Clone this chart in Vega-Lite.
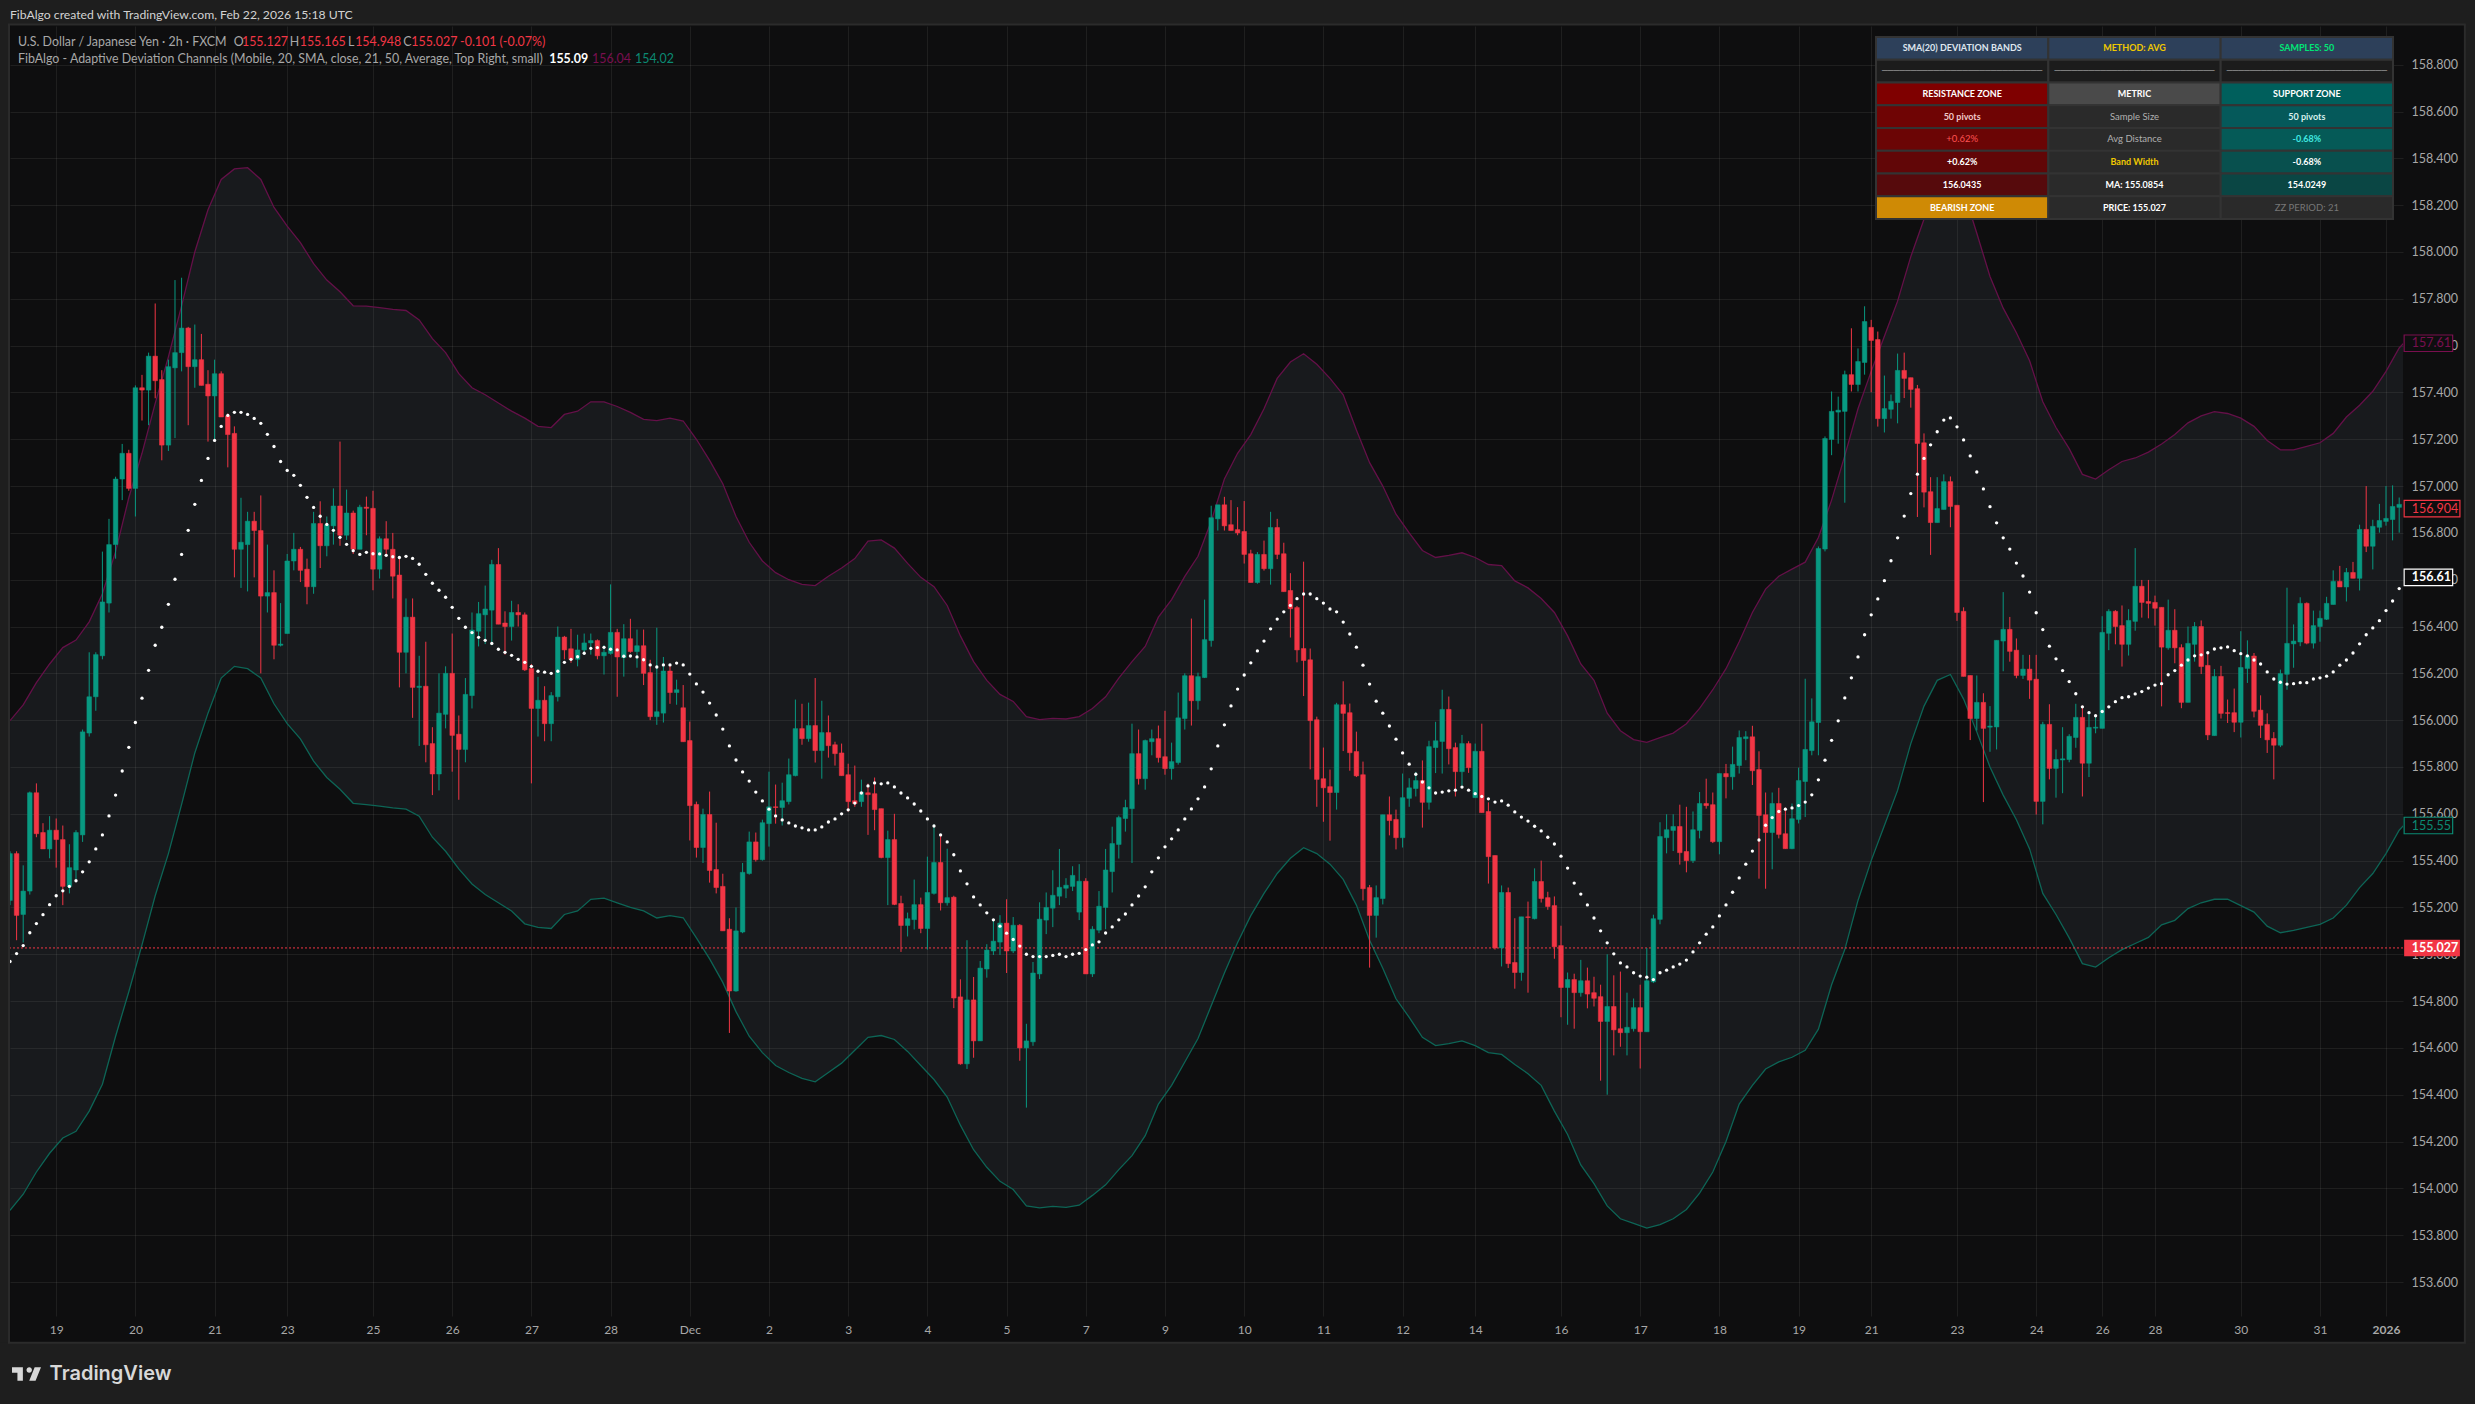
{
"$schema":"https://vega.github.io/schema/vega-lite/v6.json",
"width":2393,"height":1290,
"autosize":{"type":"none"},
"padding":{"left":10,"top":26,"right":72,"bottom":88},
"background":"#0e0e0f",
"view":{"fill":"#0e0e0f","stroke":null},
"config":{"font":"Lato","text":{"font":"Lato"}},
"data":{"values":[{}]},
"datasets":{
"bars":[
{"i":0,"o":155.23,"h":155.44,"l":155.21,"c":155.43,"m":154.969},
{"i":1,"o":155.43,"h":155.44,"l":155.06,"c":155.166,"m":155.003},
{"i":2,"o":155.17,"h":155.38,"l":155.05,"c":155.27,"m":155.037},
{"i":3,"o":155.27,"h":155.695,"l":155.255,"c":155.69,"m":155.092},
{"i":4,"o":155.69,"h":155.73,"l":155.5,"c":155.515,"m":155.131},
{"i":5,"o":155.52,"h":155.56,"l":155.45,"c":155.45,"m":155.169},
{"i":6,"o":155.45,"h":155.59,"l":155.41,"c":155.53,"m":155.212},
{"i":7,"o":155.53,"h":155.58,"l":155.37,"c":155.49,"m":155.25},
{"i":8,"o":155.49,"h":155.55,"l":155.21,"c":155.29,"m":155.271},
{"i":9,"o":155.29,"h":155.47,"l":155.26,"c":155.37,"m":155.29},
{"i":10,"o":155.36,"h":155.53,"l":155.32,"c":155.52,"m":155.314},
{"i":11,"o":155.51,"h":155.96,"l":155.48,"c":155.95,"m":155.352},
{"i":12,"o":155.945,"h":156.29,"l":155.93,"c":156.1,"m":155.395},
{"i":13,"o":156.1,"h":156.29,"l":156.04,"c":156.28,"m":155.45},
{"i":14,"o":156.275,"h":156.72,"l":156.26,"c":156.505,"m":155.51},
{"i":15,"o":156.5,"h":156.86,"l":156.46,"c":156.75,"m":155.591},
{"i":16,"o":156.75,"h":157.04,"l":156.69,"c":157.03,"m":155.68},
{"i":17,"o":157.03,"h":157.18,"l":156.94,"c":157.14,"m":155.783},
{"i":18,"o":157.14,"h":157.155,"l":156.98,"c":156.99,"m":155.884},
{"i":19,"o":156.99,"h":157.43,"l":156.87,"c":157.42,"m":155.99},
{"i":20,"o":157.42,"h":157.475,"l":157.28,"c":157.41,"m":156.094},
{"i":21,"o":157.41,"h":157.57,"l":157.26,"c":157.555,"m":156.213},
{"i":22,"o":157.555,"h":157.78,"l":157.375,"c":157.45,"m":156.32},
{"i":23,"o":157.455,"h":157.495,"l":157.11,"c":157.175,"m":156.397},
{"i":24,"o":157.175,"h":157.54,"l":157.15,"c":157.51,"m":156.495},
{"i":25,"o":157.505,"h":157.88,"l":157.205,"c":157.57,"m":156.602},
{"i":26,"o":157.57,"h":157.89,"l":157.49,"c":157.675,"m":156.708},
{"i":27,"o":157.675,"h":157.68,"l":157.26,"c":157.51,"m":156.811},
{"i":28,"o":157.51,"h":157.69,"l":157.42,"c":157.54,"m":156.922},
{"i":29,"o":157.54,"h":157.65,"l":157.43,"c":157.43,"m":157.024},
{"i":30,"o":157.435,"h":157.495,"l":157.19,"c":157.385,"m":157.118},
{"i":31,"o":157.385,"h":157.54,"l":157.195,"c":157.48,"m":157.195},
{"i":32,"o":157.48,"h":157.49,"l":157.295,"c":157.295,"m":157.255},
{"i":33,"o":157.3,"h":157.31,"l":157.08,"c":157.22,"m":157.302},
{"i":34,"o":157.225,"h":157.255,"l":156.61,"c":156.73,"m":157.315},
{"i":35,"o":156.73,"h":156.95,"l":156.565,"c":156.76,"m":157.315},
{"i":36,"o":156.75,"h":156.89,"l":156.55,"c":156.85,"m":157.306},
{"i":37,"o":156.85,"h":156.89,"l":156.61,"c":156.81,"m":157.289},
{"i":38,"o":156.81,"h":156.96,"l":156.2,"c":156.53,"m":157.268},
{"i":39,"o":156.53,"h":156.75,"l":156.46,"c":156.545,"m":157.221},
{"i":40,"o":156.545,"h":156.64,"l":156.26,"c":156.32,"m":157.169},
{"i":41,"o":156.32,"h":156.5,"l":156.315,"c":156.325,"m":157.105},
{"i":42,"o":156.37,"h":156.71,"l":156.37,"c":156.68,"m":157.067},
{"i":43,"o":156.68,"h":156.8,"l":156.64,"c":156.73,"m":157.046},
{"i":44,"o":156.73,"h":156.74,"l":156.59,"c":156.64,"m":157.003},
{"i":45,"o":156.645,"h":156.69,"l":156.495,"c":156.57,"m":156.952},
{"i":46,"o":156.57,"h":156.89,"l":156.54,"c":156.84,"m":156.909},
{"i":47,"o":156.84,"h":156.935,"l":156.65,"c":156.745,"m":156.871},
{"i":48,"o":156.745,"h":156.87,"l":156.7,"c":156.835,"m":156.836},
{"i":49,"o":156.83,"h":156.99,"l":156.75,"c":156.915,"m":156.811},
{"i":50,"o":156.915,"h":157.19,"l":156.745,"c":156.79,"m":156.781},
{"i":51,"o":156.79,"h":156.985,"l":156.77,"c":156.885,"m":156.751},
{"i":52,"o":156.885,"h":156.895,"l":156.71,"c":156.73,"m":156.724},
{"i":53,"o":156.73,"h":156.92,"l":156.73,"c":156.91,"m":156.708},
{"i":54,"o":156.91,"h":156.955,"l":156.79,"c":156.905,"m":156.717},
{"i":55,"o":156.905,"h":156.98,"l":156.555,"c":156.645,"m":156.711},
{"i":56,"o":156.645,"h":156.785,"l":156.605,"c":156.775,"m":156.71},
{"i":57,"o":156.775,"h":156.85,"l":156.7,"c":156.73,"m":156.704},
{"i":58,"o":156.73,"h":156.8,"l":156.52,"c":156.615,"m":156.698},
{"i":59,"o":156.62,"h":156.7,"l":156.14,"c":156.29,"m":156.695},
{"i":60,"o":156.29,"h":156.52,"l":156.2,"c":156.44,"m":156.7},
{"i":61,"o":156.44,"h":156.52,"l":156.01,"c":156.14,"m":156.691},
{"i":62,"o":156.14,"h":156.275,"l":155.89,"c":156.145,"m":156.666},
{"i":63,"o":156.145,"h":156.335,"l":155.82,"c":155.895,"m":156.623},
{"i":64,"o":155.9,"h":155.97,"l":155.68,"c":155.77,"m":156.585},
{"i":65,"o":155.77,"h":156.2,"l":155.7,"c":156.03,"m":156.555},
{"i":66,"o":156.025,"h":156.23,"l":155.965,"c":156.2,"m":156.525},
{"i":67,"o":156.2,"h":156.37,"l":155.78,"c":155.935,"m":156.482},
{"i":68,"o":155.94,"h":156.02,"l":155.66,"c":155.875,"m":156.435},
{"i":69,"o":155.875,"h":156.18,"l":155.82,"c":156.11,"m":156.397},
{"i":70,"o":156.105,"h":156.46,"l":156.05,"c":156.385,"m":156.374},
{"i":71,"o":156.38,"h":156.505,"l":156.315,"c":156.455,"m":156.354},
{"i":72,"o":156.45,"h":156.575,"l":156.325,"c":156.475,"m":156.341},
{"i":73,"o":156.47,"h":156.685,"l":156.32,"c":156.665,"m":156.328},
{"i":74,"o":156.665,"h":156.735,"l":156.41,"c":156.41,"m":156.303},
{"i":75,"o":156.415,"h":156.465,"l":156.28,"c":156.4,"m":156.29},
{"i":76,"o":156.4,"h":156.51,"l":156.34,"c":156.46,"m":156.277},
{"i":77,"o":156.46,"h":156.495,"l":156.4,"c":156.45,"m":156.26},
{"i":78,"o":156.45,"h":156.46,"l":156.21,"c":156.215,"m":156.247},
{"i":79,"o":156.22,"h":156.24,"l":155.73,"c":156.05,"m":156.23},
{"i":80,"o":156.05,"h":156.185,"l":155.93,"c":156.085,"m":156.209},
{"i":81,"o":156.085,"h":156.145,"l":155.91,"c":155.985,"m":156.205},
{"i":82,"o":155.985,"h":156.12,"l":155.91,"c":156.105,"m":156.2},
{"i":83,"o":156.1,"h":156.4,"l":156.08,"c":156.355,"m":156.209},
{"i":84,"o":156.355,"h":156.36,"l":156.26,"c":156.3,"m":156.247},
{"i":85,"o":156.305,"h":156.39,"l":156.245,"c":156.26,"m":156.26},
{"i":86,"o":156.26,"h":156.365,"l":156.23,"c":156.3,"m":156.271},
{"i":87,"o":156.3,"h":156.37,"l":156.28,"c":156.33,"m":156.286},
{"i":88,"o":156.33,"h":156.37,"l":156.28,"c":156.34,"m":156.307},
{"i":89,"o":156.34,"h":156.345,"l":156.26,"c":156.275,"m":156.31},
{"i":90,"o":156.275,"h":156.32,"l":156.195,"c":156.29,"m":156.311},
{"i":91,"o":156.285,"h":156.58,"l":156.28,"c":156.375,"m":156.303},
{"i":92,"o":156.375,"h":156.39,"l":156.1,"c":156.27,"m":156.3},
{"i":93,"o":156.267,"h":156.41,"l":156.186,"c":156.348,"m":156.273},
{"i":94,"o":156.348,"h":156.433,"l":156.288,"c":156.293,"m":156.274},
{"i":95,"o":156.293,"h":156.387,"l":156.224,"c":156.318,"m":156.27},
{"i":96,"o":156.318,"h":156.387,"l":156.15,"c":156.2,"m":156.258},
{"i":97,"o":156.203,"h":156.258,"l":156.0,"c":156.015,"m":156.236},
{"i":98,"o":156.015,"h":156.395,"l":155.98,"c":156.036,"m":156.227},
{"i":99,"o":156.03,"h":156.27,"l":155.99,"c":156.21,"m":156.236},
{"i":100,"o":156.21,"h":156.24,"l":156.07,"c":156.118,"m":156.236},
{"i":101,"o":156.118,"h":156.173,"l":156.066,"c":156.13,"m":156.244},
{"i":102,"o":156.053,"h":156.15,"l":155.908,"c":155.908,"m":156.236},
{"i":103,"o":155.913,"h":155.994,"l":155.486,"c":155.635,"m":156.197},
{"i":104,"o":155.64,"h":155.652,"l":155.413,"c":155.456,"m":156.155},
{"i":105,"o":155.456,"h":155.622,"l":155.39,"c":155.597,"m":156.12},
{"i":106,"o":155.597,"h":155.695,"l":155.306,"c":155.358,"m":156.073},
{"i":107,"o":155.362,"h":155.562,"l":155.26,"c":155.285,"m":156.022},
{"i":108,"o":155.29,"h":155.344,"l":155.1,"c":155.1,"m":155.962},
{"i":109,"o":155.107,"h":155.154,"l":154.664,"c":154.843,"m":155.89},
{"i":110,"o":154.843,"h":155.2,"l":154.84,"c":155.1,"m":155.83},
{"i":111,"o":155.095,"h":155.39,"l":155.09,"c":155.35,"m":155.779},
{"i":112,"o":155.345,"h":155.524,"l":155.34,"c":155.48,"m":155.74},
{"i":113,"o":155.48,"h":155.52,"l":155.396,"c":155.404,"m":155.693},
{"i":114,"o":155.404,"h":155.575,"l":155.4,"c":155.562,"m":155.655},
{"i":115,"o":155.558,"h":155.78,"l":155.46,"c":155.63,"m":155.62},
{"i":116,"o":155.63,"h":155.725,"l":155.558,"c":155.627,"m":155.591},
{"i":117,"o":155.627,"h":155.733,"l":155.55,"c":155.656,"m":155.574},
{"i":118,"o":155.652,"h":155.836,"l":155.64,"c":155.767,"m":155.561},
{"i":119,"o":155.763,"h":156.088,"l":155.76,"c":155.964,"m":155.548},
{"i":120,"o":155.964,"h":156.07,"l":155.895,"c":155.921,"m":155.54},
{"i":121,"o":155.921,"h":156.075,"l":155.908,"c":155.977,"m":155.531},
{"i":122,"o":155.977,"h":156.18,"l":155.819,"c":155.87,"m":155.531},
{"i":123,"o":155.87,"h":156.083,"l":155.75,"c":155.947,"m":155.544},
{"i":124,"o":155.947,"h":156.02,"l":155.84,"c":155.891,"m":155.565},
{"i":125,"o":155.895,"h":155.908,"l":155.806,"c":155.857,"m":155.578},
{"i":126,"o":155.86,"h":155.9,"l":155.763,"c":155.763,"m":155.6},
{"i":127,"o":155.767,"h":155.814,"l":155.61,"c":155.652,"m":155.617},
{"i":128,"o":155.656,"h":155.806,"l":155.63,"c":155.644,"m":155.646},
{"i":129,"o":155.652,"h":155.746,"l":155.63,"c":155.692,"m":155.689},
{"i":130,"o":155.69,"h":155.729,"l":155.51,"c":155.682,"m":155.719},
{"i":131,"o":155.686,"h":155.755,"l":155.53,"c":155.618,"m":155.732},
{"i":132,"o":155.622,"h":155.622,"l":155.41,"c":155.413,"m":155.728},
{"i":133,"o":155.413,"h":155.528,"l":155.21,"c":155.49,"m":155.732},
{"i":134,"o":155.49,"h":155.6,"l":155.21,"c":155.213,"m":155.715},
{"i":135,"o":155.217,"h":155.25,"l":155.01,"c":155.123,"m":155.689},
{"i":136,"o":155.123,"h":155.178,"l":155.076,"c":155.152,"m":155.668},
{"i":137,"o":155.148,"h":155.319,"l":155.106,"c":155.212,"m":155.642},
{"i":138,"o":155.212,"h":155.242,"l":155.09,"c":155.11,"m":155.612},
{"i":139,"o":155.11,"h":155.417,"l":155.02,"c":155.264,"m":155.578},
{"i":140,"o":155.26,"h":155.554,"l":155.255,"c":155.392,"m":155.548},
{"i":141,"o":155.392,"h":155.51,"l":155.187,"c":155.22,"m":155.51},
{"i":142,"o":155.22,"h":155.451,"l":155.208,"c":155.242,"m":155.48},
{"i":143,"o":155.244,"h":155.25,"l":154.77,"c":154.813,"m":155.425},
{"i":144,"o":154.818,"h":154.893,"l":154.528,"c":154.532,"m":155.356},
{"i":145,"o":154.532,"h":155.06,"l":154.51,"c":154.805,"m":155.301},
{"i":146,"o":154.805,"h":154.903,"l":154.558,"c":154.63,"m":155.245},
{"i":147,"o":154.63,"h":154.971,"l":154.63,"c":154.941,"m":155.211},
{"i":148,"o":154.937,"h":155.043,"l":154.9,"c":155.018,"m":155.177},
{"i":149,"o":155.014,"h":155.15,"l":154.997,"c":155.056,"m":155.147},
{"i":150,"o":155.052,"h":155.167,"l":154.997,"c":155.133,"m":155.12},
{"i":151,"o":155.133,"h":155.235,"l":154.92,"c":155.014,"m":155.09},
{"i":152,"o":155.014,"h":155.159,"l":155.005,"c":155.124,"m":155.063},
{"i":153,"o":155.124,"h":155.129,"l":154.545,"c":154.6,"m":155.035},
{"i":154,"o":154.6,"h":154.703,"l":154.345,"c":154.63,"m":155.0},
{"i":155,"o":154.626,"h":154.967,"l":154.609,"c":154.92,"m":154.99},
{"i":156,"o":154.916,"h":155.222,"l":154.894,"c":155.15,"m":154.99},
{"i":157,"o":155.146,"h":155.264,"l":155.086,"c":155.2,"m":154.99},
{"i":158,"o":155.197,"h":155.359,"l":155.116,"c":155.252,"m":154.995},
{"i":159,"o":155.248,"h":155.45,"l":155.21,"c":155.286,"m":155.0},
{"i":160,"o":155.282,"h":155.325,"l":155.24,"c":155.295,"m":154.99},
{"i":161,"o":155.29,"h":155.376,"l":155.27,"c":155.337,"m":155.0},
{"i":162,"o":155.18,"h":155.385,"l":155.146,"c":155.312,"m":155.004},
{"i":163,"o":155.312,"h":155.325,"l":154.916,"c":154.916,"m":155.02},
{"i":164,"o":154.916,"h":155.12,"l":154.903,"c":155.107,"m":155.04},
{"i":165,"o":155.103,"h":155.27,"l":155.09,"c":155.205,"m":155.053},
{"i":166,"o":155.2,"h":155.45,"l":155.107,"c":155.36,"m":155.091},
{"i":167,"o":155.353,"h":155.545,"l":155.264,"c":155.473,"m":155.117},
{"i":168,"o":155.469,"h":155.592,"l":155.409,"c":155.584,"m":155.147},
{"i":169,"o":155.58,"h":155.66,"l":155.524,"c":155.627,"m":155.172},
{"i":170,"o":155.622,"h":155.985,"l":155.39,"c":155.857,"m":155.211},
{"i":171,"o":155.857,"h":155.96,"l":155.725,"c":155.75,"m":155.249},
{"i":172,"o":155.75,"h":155.917,"l":155.703,"c":155.913,"m":155.288},
{"i":173,"o":155.908,"h":155.96,"l":155.85,"c":155.921,"m":155.352},
{"i":174,"o":155.921,"h":155.977,"l":155.819,"c":155.84,"m":155.412},
{"i":175,"o":155.844,"h":156.04,"l":155.767,"c":155.793,"m":155.459},
{"i":176,"o":155.793,"h":155.904,"l":155.746,"c":155.823,"m":155.493},
{"i":177,"o":155.819,"h":156.118,"l":155.81,"c":156.01,"m":155.531},
{"i":178,"o":156.007,"h":156.2,"l":155.96,"c":156.19,"m":155.578},
{"i":179,"o":156.19,"h":156.434,"l":155.977,"c":156.083,"m":155.621},
{"i":180,"o":156.083,"h":156.203,"l":156.045,"c":156.186,"m":155.664},
{"i":181,"o":156.182,"h":156.515,"l":156.18,"c":156.344,"m":155.715},
{"i":182,"o":156.34,"h":156.916,"l":156.314,"c":156.865,"m":155.792},
{"i":183,"o":156.86,"h":156.92,"l":156.81,"c":156.92,"m":155.89},
{"i":184,"o":156.92,"h":156.954,"l":156.81,"c":156.83,"m":155.98},
{"i":185,"o":156.835,"h":156.94,"l":156.81,"c":156.81,"m":156.061},
{"i":186,"o":156.814,"h":156.91,"l":156.79,"c":156.8,"m":156.133},
{"i":187,"o":156.806,"h":156.936,"l":156.669,"c":156.708,"m":156.193},
{"i":188,"o":156.711,"h":156.728,"l":156.588,"c":156.588,"m":156.245},
{"i":189,"o":156.588,"h":156.718,"l":156.583,"c":156.708,"m":156.296},
{"i":190,"o":156.708,"h":156.767,"l":156.639,"c":156.647,"m":156.338},
{"i":191,"o":156.647,"h":156.89,"l":156.579,"c":156.823,"m":156.39},
{"i":192,"o":156.823,"h":156.86,"l":156.688,"c":156.708,"m":156.432},
{"i":193,"o":156.711,"h":156.758,"l":156.549,"c":156.549,"m":156.463},
{"i":194,"o":156.554,"h":156.628,"l":156.353,"c":156.476,"m":156.49},
{"i":195,"o":156.481,"h":156.488,"l":156.247,"c":156.3,"m":156.519},
{"i":196,"o":156.306,"h":156.677,"l":156.103,"c":156.255,"m":156.539},
{"i":197,"o":156.258,"h":156.306,"l":155.79,"c":155.998,"m":156.539},
{"i":198,"o":156.002,"h":156.015,"l":155.63,"c":155.747,"m":156.519},
{"i":199,"o":155.75,"h":155.883,"l":155.566,"c":155.711,"m":156.5},
{"i":200,"o":155.716,"h":155.789,"l":155.485,"c":155.691,"m":156.475},
{"i":201,"o":155.691,"h":156.074,"l":155.618,"c":156.066,"m":156.463},
{"i":202,"o":156.066,"h":156.166,"l":155.868,"c":156.029,"m":156.419},
{"i":203,"o":156.032,"h":156.071,"l":155.784,"c":155.861,"m":156.368},
{"i":204,"o":155.866,"h":155.951,"l":155.757,"c":155.762,"m":156.312},
{"i":205,"o":155.767,"h":155.823,"l":155.23,"c":155.28,"m":156.235},
{"i":206,"o":155.285,"h":155.296,"l":154.943,"c":155.166,"m":156.154},
{"i":207,"o":155.166,"h":155.294,"l":155.071,"c":155.242,"m":156.081},
{"i":208,"o":155.238,"h":155.596,"l":155.213,"c":155.596,"m":156.03},
{"i":209,"o":155.596,"h":155.674,"l":155.508,"c":155.571,"m":155.975},
{"i":210,"o":155.576,"h":155.618,"l":155.448,"c":155.498,"m":155.919},
{"i":211,"o":155.498,"h":155.772,"l":155.456,"c":155.669,"m":155.86},
{"i":212,"o":155.666,"h":155.752,"l":155.63,"c":155.711,"m":155.812},
{"i":213,"o":155.708,"h":155.779,"l":155.674,"c":155.742,"m":155.769},
{"i":214,"o":155.742,"h":155.828,"l":155.541,"c":155.649,"m":155.736},
{"i":215,"o":155.649,"h":155.912,"l":155.618,"c":155.887,"m":155.711},
{"i":216,"o":155.883,"h":155.993,"l":155.774,"c":155.912,"m":155.689},
{"i":217,"o":155.909,"h":156.13,"l":155.772,"c":156.046,"m":155.693},
{"i":218,"o":156.046,"h":156.101,"l":155.811,"c":155.878,"m":155.698},
{"i":219,"o":155.883,"h":155.904,"l":155.674,"c":155.78,"m":155.701},
{"i":220,"o":155.78,"h":155.937,"l":155.72,"c":155.9,"m":155.714},
{"i":221,"o":155.9,"h":155.91,"l":155.775,"c":155.797,"m":155.701},
{"i":222,"o":155.669,"h":155.9,"l":155.669,"c":155.867,"m":155.686},
{"i":223,"o":155.867,"h":155.985,"l":155.605,"c":155.605,"m":155.674},
{"i":224,"o":155.61,"h":155.649,"l":155.302,"c":155.417,"m":155.664},
{"i":225,"o":155.422,"h":155.422,"l":155.02,"c":155.027,"m":155.65},
{"i":226,"o":155.027,"h":155.294,"l":154.948,"c":155.264,"m":155.655},
{"i":227,"o":155.264,"h":155.285,"l":154.941,"c":154.96,"m":155.637},
{"i":228,"o":154.965,"h":155.154,"l":154.853,"c":154.922,"m":155.608},
{"i":229,"o":154.922,"h":155.16,"l":154.887,"c":155.16,"m":155.586},
{"i":230,"o":155.16,"h":155.225,"l":154.836,"c":155.157,"m":155.569},
{"i":231,"o":155.152,"h":155.367,"l":155.149,"c":155.311,"m":155.547},
{"i":232,"o":155.311,"h":155.4,"l":155.221,"c":155.238,"m":155.527},
{"i":233,"o":155.242,"h":155.267,"l":155.19,"c":155.204,"m":155.5},
{"i":234,"o":155.208,"h":155.247,"l":154.981,"c":155.032,"m":155.471},
{"i":235,"o":155.037,"h":155.122,"l":154.731,"c":154.858,"m":155.419},
{"i":236,"o":154.858,"h":154.922,"l":154.699,"c":154.892,"m":155.368},
{"i":237,"o":154.892,"h":154.917,"l":154.682,"c":154.836,"m":155.304},
{"i":238,"o":154.836,"h":154.976,"l":154.819,"c":154.887,"m":155.257},
{"i":239,"o":154.887,"h":154.943,"l":154.769,"c":154.83,"m":155.211},
{"i":240,"o":154.836,"h":154.904,"l":154.777,"c":154.812,"m":155.155},
{"i":241,"o":154.819,"h":154.87,"l":154.46,"c":154.713,"m":155.1},
{"i":242,"o":154.713,"h":155.0,"l":154.4,"c":154.777,"m":155.049},
{"i":243,"o":154.777,"h":154.91,"l":154.568,"c":154.677,"m":155.002},
{"i":244,"o":154.682,"h":154.926,"l":154.605,"c":154.665,"m":154.963},
{"i":245,"o":154.665,"h":154.836,"l":154.568,"c":154.688,"m":154.946},
{"i":246,"o":154.682,"h":154.811,"l":154.67,"c":154.772,"m":154.921},
{"i":247,"o":154.772,"h":154.87,"l":154.512,"c":154.669,"m":154.907},
{"i":248,"o":154.669,"h":155.027,"l":154.669,"c":154.887,"m":154.902},
{"i":249,"o":154.882,"h":155.169,"l":154.877,"c":155.152,"m":154.892},
{"i":250,"o":155.149,"h":155.564,"l":155.128,"c":155.503,"m":154.921},
{"i":251,"o":155.498,"h":155.598,"l":155.431,"c":155.532,"m":154.932},
{"i":252,"o":155.529,"h":155.598,"l":155.441,"c":155.546,"m":154.946},
{"i":253,"o":155.546,"h":155.639,"l":155.383,"c":155.434,"m":154.958},
{"i":254,"o":155.439,"h":155.63,"l":155.35,"c":155.4,"m":154.975},
{"i":255,"o":155.4,"h":155.61,"l":155.39,"c":155.532,"m":155.01},
{"i":256,"o":155.529,"h":155.693,"l":155.495,"c":155.644,"m":155.049},
{"i":257,"o":155.644,"h":155.75,"l":155.622,"c":155.635,"m":155.086},
{"i":258,"o":155.639,"h":155.691,"l":155.475,"c":155.481,"m":155.117},
{"i":259,"o":155.481,"h":155.772,"l":155.427,"c":155.772,"m":155.164},
{"i":260,"o":155.772,"h":155.813,"l":155.666,"c":155.758,"m":155.211},
{"i":261,"o":155.758,"h":155.887,"l":155.703,"c":155.811,"m":155.265},
{"i":262,"o":155.806,"h":155.956,"l":155.772,"c":155.926,"m":155.326},
{"i":263,"o":155.921,"h":155.953,"l":155.829,"c":155.929,"m":155.385},
{"i":264,"o":155.929,"h":155.976,"l":155.723,"c":155.784,"m":155.441},
{"i":265,"o":155.789,"h":155.867,"l":155.323,"c":155.593,"m":155.488},
{"i":266,"o":155.596,"h":155.691,"l":155.28,"c":155.52,"m":155.551},
{"i":267,"o":155.52,"h":155.691,"l":155.363,"c":155.644,"m":155.584},
{"i":268,"o":155.644,"h":155.711,"l":155.495,"c":155.512,"m":155.61},
{"i":269,"o":155.515,"h":155.627,"l":155.451,"c":155.451,"m":155.62},
{"i":270,"o":155.451,"h":155.644,"l":155.449,"c":155.579,"m":155.625},
{"i":271,"o":155.576,"h":155.797,"l":155.559,"c":155.742,"m":155.635},
{"i":272,"o":155.738,"h":156.177,"l":155.586,"c":155.875,"m":155.65},
{"i":273,"o":155.87,"h":156.093,"l":155.85,"c":155.993,"m":155.681},
{"i":274,"o":155.99,"h":156.742,"l":155.85,"c":156.733,"m":155.745},
{"i":275,"o":156.731,"h":157.212,"l":156.721,"c":157.203,"m":155.829},
{"i":276,"o":157.199,"h":157.404,"l":157.132,"c":157.319,"m":155.914},
{"i":277,"o":157.316,"h":157.382,"l":157.181,"c":157.324,"m":155.997},
{"i":278,"o":157.319,"h":157.493,"l":156.929,"c":157.476,"m":156.095},
{"i":279,"o":157.476,"h":157.674,"l":157.404,"c":157.434,"m":156.181},
{"i":280,"o":157.434,"h":157.588,"l":157.404,"c":157.532,"m":156.27},
{"i":281,"o":157.528,"h":157.768,"l":157.476,"c":157.703,"m":156.365},
{"i":282,"o":157.678,"h":157.71,"l":157.401,"c":157.622,"m":156.45},
{"i":283,"o":157.626,"h":157.66,"l":157.254,"c":157.288,"m":156.518},
{"i":284,"o":157.288,"h":157.472,"l":157.229,"c":157.331,"m":156.596},
{"i":285,"o":157.328,"h":157.391,"l":157.288,"c":157.362,"m":156.681},
{"i":286,"o":157.357,"h":157.566,"l":157.268,"c":157.494,"m":156.779},
{"i":287,"o":157.494,"h":157.57,"l":157.376,"c":157.46,"m":156.872},
{"i":288,"o":157.463,"h":157.463,"l":157.335,"c":157.413,"m":156.968},
{"i":289,"o":157.416,"h":157.432,"l":156.868,"c":157.182,"m":157.051},
{"i":290,"o":157.185,"h":157.225,"l":156.909,"c":156.974,"m":157.118},
{"i":291,"o":156.976,"h":157.038,"l":156.706,"c":156.844,"m":157.176},
{"i":292,"o":156.844,"h":157.038,"l":156.844,"c":156.904,"m":157.232},
{"i":293,"o":156.9,"h":157.05,"l":156.9,"c":157.019,"m":157.282},
{"i":294,"o":157.019,"h":157.041,"l":156.824,"c":156.913,"m":157.291},
{"i":295,"o":156.918,"h":156.918,"l":156.424,"c":156.46,"m":157.253},
{"i":296,"o":156.465,"h":156.482,"l":156.187,"c":156.187,"m":157.197},
{"i":297,"o":156.191,"h":156.191,"l":155.915,"c":156.007,"m":157.129},
{"i":298,"o":156.007,"h":156.191,"l":155.956,"c":156.076,"m":157.06},
{"i":299,"o":156.076,"h":156.115,"l":155.65,"c":155.965,"m":156.988},
{"i":300,"o":155.97,"h":156.06,"l":155.865,"c":155.975,"m":156.912},
{"i":301,"o":155.971,"h":156.341,"l":155.875,"c":156.341,"m":156.843},
{"i":302,"o":156.338,"h":156.547,"l":156.209,"c":156.388,"m":156.779},
{"i":303,"o":156.388,"h":156.441,"l":156.25,"c":156.294,"m":156.731},
{"i":304,"o":156.299,"h":156.349,"l":156.179,"c":156.191,"m":156.671},
{"i":305,"o":156.191,"h":156.279,"l":156.176,"c":156.218,"m":156.616},
{"i":306,"o":156.218,"h":156.279,"l":156.091,"c":156.171,"m":156.547},
{"i":307,"o":156.175,"h":156.279,"l":155.597,"c":155.653,"m":156.459},
{"i":308,"o":155.653,"h":155.993,"l":155.555,"c":155.982,"m":156.387},
{"i":309,"o":155.982,"h":156.068,"l":155.747,"c":155.794,"m":156.316},
{"i":310,"o":155.794,"h":155.875,"l":155.669,"c":155.832,"m":156.262},
{"i":311,"o":155.83,"h":155.97,"l":155.688,"c":155.835,"m":156.212},
{"i":312,"o":155.832,"h":155.94,"l":155.82,"c":155.931,"m":156.165},
{"i":313,"o":155.926,"h":156.07,"l":155.882,"c":156.012,"m":156.113},
{"i":314,"o":156.012,"h":156.062,"l":155.674,"c":155.816,"m":156.057},
{"i":315,"o":155.816,"h":156.038,"l":155.757,"c":155.969,"m":156.032},
{"i":316,"o":155.966,"h":156.02,"l":155.944,"c":155.97,"m":156.019},
{"i":317,"o":155.965,"h":156.444,"l":155.965,"c":156.375,"m":156.037},
{"i":318,"o":156.371,"h":156.474,"l":156.299,"c":156.465,"m":156.057},
{"i":319,"o":156.465,"h":156.47,"l":156.324,"c":156.4,"m":156.079},
{"i":320,"o":156.404,"h":156.49,"l":156.229,"c":156.324,"m":156.096},
{"i":321,"o":156.324,"h":156.474,"l":156.276,"c":156.426,"m":156.1},
{"i":322,"o":156.422,"h":156.735,"l":156.382,"c":156.572,"m":156.112},
{"i":323,"o":156.572,"h":156.599,"l":156.438,"c":156.503,"m":156.122},
{"i":324,"o":156.507,"h":156.599,"l":156.435,"c":156.499,"m":156.137},
{"i":325,"o":156.503,"h":156.532,"l":156.404,"c":156.478,"m":156.15},
{"i":326,"o":156.482,"h":156.482,"l":156.059,"c":156.312,"m":156.156},
{"i":327,"o":156.309,"h":156.515,"l":156.301,"c":156.384,"m":156.194},
{"i":328,"o":156.384,"h":156.474,"l":156.243,"c":156.309,"m":156.212},
{"i":329,"o":156.31,"h":156.324,"l":156.051,"c":156.076,"m":156.235},
{"i":330,"o":156.076,"h":156.4,"l":156.076,"c":156.328,"m":156.257},
{"i":331,"o":156.324,"h":156.419,"l":156.25,"c":156.4,"m":156.275},
{"i":332,"o":156.4,"h":156.426,"l":156.197,"c":156.229,"m":156.279},
{"i":333,"o":156.234,"h":156.287,"l":155.915,"c":155.937,"m":156.288},
{"i":334,"o":155.934,"h":156.218,"l":155.934,"c":156.187,"m":156.304},
{"i":335,"o":156.187,"h":156.232,"l":156.007,"c":156.029,"m":156.309},
{"i":336,"o":156.032,"h":156.088,"l":155.988,"c":156.029,"m":156.313},
{"i":337,"o":156.032,"h":156.135,"l":155.949,"c":155.991,"m":156.297},
{"i":338,"o":155.991,"h":156.38,"l":155.926,"c":156.225,"m":156.284},
{"i":339,"o":156.221,"h":156.341,"l":156.159,"c":156.274,"m":156.275},
{"i":340,"o":156.274,"h":156.287,"l":156.012,"c":156.038,"m":156.257},
{"i":341,"o":156.043,"h":156.106,"l":155.924,"c":155.978,"m":156.24},
{"i":342,"o":155.982,"h":156.029,"l":155.86,"c":155.916,"m":156.206},
{"i":343,"o":155.922,"h":155.949,"l":155.747,"c":155.893,"m":156.176},
{"i":344,"o":155.893,"h":156.216,"l":155.885,"c":156.199,"m":156.162},
{"i":345,"o":156.196,"h":156.566,"l":156.13,"c":156.328,"m":156.154},
{"i":346,"o":156.326,"h":156.409,"l":156.224,"c":156.338,"m":156.156},
{"i":347,"o":156.334,"h":156.525,"l":156.316,"c":156.499,"m":156.16},
{"i":348,"o":156.499,"h":156.503,"l":156.324,"c":156.329,"m":156.16},
{"i":349,"o":156.329,"h":156.468,"l":156.306,"c":156.404,"m":156.176},
{"i":350,"o":156.4,"h":156.468,"l":156.335,"c":156.435,"m":156.181},
{"i":351,"o":156.431,"h":156.527,"l":156.428,"c":156.499,"m":156.188},
{"i":352,"o":156.494,"h":156.64,"l":156.494,"c":156.593,"m":156.206},
{"i":353,"o":156.593,"h":156.659,"l":156.569,"c":156.569,"m":156.235},
{"i":354,"o":156.569,"h":156.65,"l":156.507,"c":156.631,"m":156.257},
{"i":355,"o":156.631,"h":156.676,"l":156.606,"c":156.606,"m":156.287},
{"i":356,"o":156.606,"h":156.835,"l":156.554,"c":156.815,"m":156.326},
{"i":357,"o":156.815,"h":157.0,"l":156.718,"c":156.743,"m":156.365},
{"i":358,"o":156.743,"h":156.856,"l":156.644,"c":156.828,"m":156.394},
{"i":359,"o":156.824,"h":156.924,"l":156.801,"c":156.853,"m":156.425},
{"i":360,"o":156.849,"h":157.0,"l":156.831,"c":156.862,"m":156.468},
{"i":361,"o":156.857,"h":157.003,"l":156.768,"c":156.913,"m":156.509},
{"i":362,"o":156.909,"h":156.951,"l":156.801,"c":156.922,"m":156.562}
],
"bands":[
{"i":0,"u":155.998,"d":153.906},{"i":2,"u":156.065,"d":153.975},{"i":4,"u":156.16,"d":154.07},{"i":6,"u":156.24,"d":154.15},{"i":8,"u":156.31,"d":154.215},{"i":10,"u":156.342,"d":154.244},{"i":12,"u":156.42,"d":154.33},{"i":14,"u":156.54,"d":154.445},{"i":16,"u":156.72,"d":154.65},{"i":18,"u":156.95,"d":154.84},{"i":20,"u":157.14,"d":155.04},{"i":22,"u":157.353,"d":155.25},{"i":24,"u":157.552,"d":155.43},{"i":26,"u":157.77,"d":155.64},{"i":28,"u":158.0,"d":155.86},{"i":30,"u":158.18,"d":156.03},{"i":32,"u":158.31,"d":156.18},{"i":34,"u":158.355,"d":156.23},{"i":36,"u":158.36,"d":156.22},{"i":38,"u":158.31,"d":156.18},{"i":40,"u":158.19,"d":156.07},{"i":42,"u":158.11,"d":155.985},{"i":44,"u":158.04,"d":155.92},{"i":46,"u":157.95,"d":155.825},{"i":48,"u":157.88,"d":155.755},{"i":50,"u":157.83,"d":155.705},{"i":52,"u":157.77,"d":155.645},{"i":54,"u":157.769,"d":155.639},{"i":56,"u":157.762,"d":155.633},{"i":58,"u":157.755,"d":155.625},{"i":60,"u":157.75,"d":155.62},{"i":62,"u":157.71,"d":155.59},{"i":64,"u":157.63,"d":155.5},{"i":66,"u":157.57,"d":155.44},{"i":68,"u":157.48,"d":155.365},{"i":70,"u":157.42,"d":155.3},{"i":72,"u":157.39,"d":155.255},{"i":74,"u":157.355,"d":155.22},{"i":76,"u":157.32,"d":155.185},{"i":78,"u":157.29,"d":155.13},{"i":80,"u":157.255,"d":155.115},{"i":82,"u":157.25,"d":155.11},{"i":84,"u":157.306,"d":155.17},{"i":86,"u":157.32,"d":155.185},{"i":88,"u":157.36,"d":155.235},{"i":90,"u":157.36,"d":155.24},{"i":92,"u":157.34,"d":155.22},{"i":94,"u":157.315,"d":155.2},{"i":96,"u":157.285,"d":155.185},{"i":98,"u":157.28,"d":155.155},{"i":100,"u":157.29,"d":155.165},{"i":102,"u":157.278,"d":155.156},{"i":104,"u":157.2,"d":155.07},{"i":106,"u":157.11,"d":154.98},{"i":108,"u":157.01,"d":154.88},{"i":110,"u":156.87,"d":154.755},{"i":112,"u":156.76,"d":154.65},{"i":114,"u":156.68,"d":154.58},{"i":116,"u":156.63,"d":154.525},{"i":118,"u":156.6,"d":154.495},{"i":120,"u":156.58,"d":154.47},{"i":122,"u":156.575,"d":154.455},{"i":124,"u":156.615,"d":154.495},{"i":126,"u":156.65,"d":154.535},{"i":128,"u":156.69,"d":154.59},{"i":130,"u":156.765,"d":154.645},{"i":132,"u":156.77,"d":154.653},{"i":134,"u":156.735,"d":154.636},{"i":136,"u":156.67,"d":154.585},{"i":138,"u":156.61,"d":154.525},{"i":140,"u":156.57,"d":154.465},{"i":142,"u":156.49,"d":154.39},{"i":144,"u":156.36,"d":154.27},{"i":146,"u":156.25,"d":154.165},{"i":148,"u":156.17,"d":154.09},{"i":150,"u":156.11,"d":154.03},{"i":152,"u":156.08,"d":153.995},{"i":154,"u":156.015,"d":153.925},{"i":156,"u":156.002,"d":153.917},{"i":158,"u":156.008,"d":153.923},{"i":160,"u":156.005,"d":153.919},{"i":162,"u":156.015,"d":153.928},{"i":164,"u":156.05,"d":153.97},{"i":166,"u":156.1,"d":154.015},{"i":168,"u":156.18,"d":154.08},{"i":170,"u":156.25,"d":154.14},{"i":172,"u":156.315,"d":154.225},{"i":174,"u":156.44,"d":154.36},{"i":176,"u":156.515,"d":154.44},{"i":178,"u":156.614,"d":154.54},{"i":180,"u":156.7,"d":154.64},{"i":182,"u":156.85,"d":154.78},{"i":184,"u":157.03,"d":154.92},{"i":186,"u":157.14,"d":155.05},{"i":188,"u":157.22,"d":155.165},{"i":190,"u":157.33,"d":155.26},{"i":192,"u":157.46,"d":155.345},{"i":194,"u":157.53,"d":155.41},{"i":196,"u":157.565,"d":155.455},{"i":198,"u":157.52,"d":155.43},{"i":200,"u":157.46,"d":155.385},{"i":202,"u":157.39,"d":155.32},{"i":204,"u":157.24,"d":155.21},{"i":206,"u":157.1,"d":155.06},{"i":208,"u":157.0,"d":154.94},{"i":210,"u":156.88,"d":154.81},{"i":212,"u":156.8,"d":154.73},{"i":214,"u":156.725,"d":154.645},{"i":216,"u":156.695,"d":154.61},{"i":218,"u":156.704,"d":154.618},{"i":220,"u":156.715,"d":154.63},{"i":222,"u":156.695,"d":154.61},{"i":224,"u":156.665,"d":154.58},{"i":226,"u":156.66,"d":154.572},{"i":228,"u":156.595,"d":154.529},{"i":230,"u":156.565,"d":154.49},{"i":232,"u":156.52,"d":154.44},{"i":234,"u":156.46,"d":154.33},{"i":236,"u":156.36,"d":154.23},{"i":238,"u":156.24,"d":154.1},{"i":240,"u":156.17,"d":154.02},{"i":242,"u":156.03,"d":153.925},{"i":244,"u":155.955,"d":153.87},{"i":246,"u":155.917,"d":153.85},{"i":248,"u":155.905,"d":153.83},{"i":250,"u":155.925,"d":153.845},{"i":252,"u":155.945,"d":153.87},{"i":254,"u":155.985,"d":153.91},{"i":256,"u":156.05,"d":153.98},{"i":258,"u":156.13,"d":154.07},{"i":260,"u":156.22,"d":154.2},{"i":262,"u":156.335,"d":154.36},{"i":264,"u":156.46,"d":154.44},{"i":266,"u":156.56,"d":154.51},{"i":268,"u":156.615,"d":154.54},{"i":270,"u":156.645,"d":154.56},{"i":272,"u":156.675,"d":154.59},{"i":274,"u":156.78,"d":154.68},{"i":276,"u":156.94,"d":154.87},{"i":278,"u":157.13,"d":155.02},{"i":280,"u":157.33,"d":155.23},{"i":282,"u":157.49,"d":155.4},{"i":284,"u":157.64,"d":155.55},{"i":286,"u":157.79,"d":155.7},{"i":288,"u":157.98,"d":155.9},{"i":290,"u":158.14,"d":156.06},{"i":292,"u":158.28,"d":156.17},{"i":294,"u":158.33,"d":156.195},{"i":296,"u":158.26,"d":156.09},{"i":298,"u":158.08,"d":155.95},{"i":300,"u":157.895,"d":155.8},{"i":302,"u":157.76,"d":155.68},{"i":304,"u":157.655,"d":155.575},{"i":306,"u":157.535,"d":155.45},{"i":308,"u":157.36,"d":155.26},{"i":310,"u":157.25,"d":155.17},{"i":312,"u":157.16,"d":155.07},{"i":314,"u":157.05,"d":154.96},{"i":316,"u":157.03,"d":154.945},{"i":318,"u":157.07,"d":154.985},{"i":320,"u":157.105,"d":155.02},{"i":322,"u":157.12,"d":155.046},{"i":324,"u":157.145,"d":155.072},{"i":326,"u":157.18,"d":155.126},{"i":328,"u":157.22,"d":155.145},{"i":330,"u":157.27,"d":155.195},{"i":332,"u":157.3,"d":155.22},{"i":334,"u":157.318,"d":155.235},{"i":336,"u":157.31,"d":155.235},{"i":338,"u":157.29,"d":155.208},{"i":340,"u":157.255,"d":155.18},{"i":342,"u":157.195,"d":155.12},{"i":344,"u":157.155,"d":155.092},{"i":346,"u":157.155,"d":155.102},{"i":348,"u":157.17,"d":155.115},{"i":350,"u":157.185,"d":155.128},{"i":352,"u":157.225,"d":155.155},{"i":354,"u":157.295,"d":155.21},{"i":356,"u":157.345,"d":155.285},{"i":358,"u":157.405,"d":155.345},{"i":360,"u":157.49,"d":155.43},{"i":362,"u":157.59,"d":155.53},{"i":363,"u":157.62,"d":155.56}
],
"cells":[
{"row":"r0","col":"L","text":"SMA(20) DEVIATION BANDS","tone":"head","ink":"pale","bold":true},
{"row":"r0","col":"M","text":"METHOD: AVG","tone":"head","ink":"gold","bold":true},
{"row":"r0","col":"R","text":"SAMPLES: 50","tone":"head","ink":"mint","bold":true},
{"row":"r1","col":"L","text":"────────────────────────────","tone":"rule","ink":"line","bold":false},
{"row":"r1","col":"M","text":"────────────────────────────","tone":"rule","ink":"line","bold":false},
{"row":"r1","col":"R","text":"────────────────────────────","tone":"rule","ink":"line","bold":false},
{"row":"r2","col":"L","text":"RESISTANCE ZONE","tone":"red0","ink":"white","bold":true},
{"row":"r2","col":"M","text":"METRIC","tone":"metricHead","ink":"white","bold":true},
{"row":"r2","col":"R","text":"SUPPORT ZONE","tone":"teal0","ink":"white","bold":true},
{"row":"r3","col":"L","text":"50 pivots","tone":"red1","ink":"rose","bold":true},
{"row":"r3","col":"M","text":"Sample Size","tone":"metric","ink":"grey","bold":false},
{"row":"r3","col":"R","text":"50 pivots","tone":"teal1","ink":"ice","bold":true},
{"row":"r4","col":"L","text":"+0.62%","tone":"red2","ink":"coral","bold":false},
{"row":"r4","col":"M","text":"Avg Distance","tone":"metric","ink":"grey","bold":false},
{"row":"r4","col":"R","text":"-0.68%","tone":"teal2","ink":"cyan","bold":true},
{"row":"r5","col":"L","text":"+0.62%","tone":"red3","ink":"white","bold":true},
{"row":"r5","col":"M","text":"Band Width","tone":"metric","ink":"gold","bold":true},
{"row":"r5","col":"R","text":"-0.68%","tone":"teal3","ink":"white","bold":true},
{"row":"r6","col":"L","text":"156.0435","tone":"red4","ink":"white","bold":true},
{"row":"r6","col":"M","text":"MA: 155.0854","tone":"metric","ink":"white","bold":true},
{"row":"r6","col":"R","text":"154.0249","tone":"teal4","ink":"white","bold":true},
{"row":"r7","col":"L","text":"BEARISH ZONE","tone":"amber","ink":"white","bold":true},
{"row":"r7","col":"M","text":"PRICE: 155.027","tone":"metric","ink":"white","bold":true},
{"row":"r7","col":"R","text":"ZZ PERIOD: 21","tone":"metric","ink":"dim","bold":false}
]
},
"layer":[
{"layer":[
{"data":{"name":"bands"},"mark":{"type":"area","fill":"#7a8a9a","fillOpacity":0.1,"clip":true},
 "encoding":{
  "x":{"field":"i","type":"quantitative","title":null,"scale":{"domain":[0,362.576],"zero":false,"nice":false,"padding":0},
   "axis":{"values":[7,19,31,42,55,67,79,91,103,115,127,139,151,163,175,187,199,211,222,235,247,259,271,282,295,307,317,325,338,350,360],
    "labelExpr":"{'7':'19','19':'20','31':'21','42':'23','55':'25','67':'26','79':'27','91':'28','103':'Dec','115':'2','127':'3','139':'4','151':'5','163':'7','175':'9','187':'10','199':'11','211':'12','222':'14','235':'16','247':'17','259':'18','271':'19','282':'21','295':'23','307':'24','317':'26','325':'28','338':'30','350':'31','360':'2026'}[''+datum.value]",
    "grid":true,"gridColor":"#ffffff","gridOpacity":0.07,"gridWidth":1,"ticks":false,"domain":false,"labelColor":"#a8a8a8","labelFontSize":12,"labelFont":"Lato","labelPadding":8,"labelOverlap":false,"labelBound":false,"labelFlush":false,"labelAngle":0,
    "labelFontWeight":{"condition":{"test":"datum.value==360","value":"bold"},"value":"normal"}}},
  "y":{"field":"u","type":"quantitative","title":null,"scale":{"domain":[153.4548,158.9653],"zero":false,"nice":false,"padding":0},
   "axis":{"orient":"right","values":[153.6,153.8,154,154.2,154.4,154.6,154.8,155,155.2,155.4,155.6,155.8,156,156.2,156.4,156.6,156.8,157,157.2,157.4,157.6,157.8,158,158.2,158.4,158.6,158.8],
    "format":".3f","grid":true,"gridColor":"#ffffff","gridOpacity":0.07,"gridWidth":1,"ticks":false,"domain":false,"labelColor":"#a8a8a8","labelFontSize":12.5,"labelFont":"Lato","labelPadding":8,"labelOverlap":false,"labelBound":false,"labelFlush":false}},
  "y2":{"field":"d"}}},
{"data":{"name":"bands"},"mark":{"type":"line","color":"#641048","strokeWidth":1.3,"clip":true},
 "encoding":{"x":{"field":"i","type":"quantitative","title":null},"y":{"field":"u","type":"quantitative","title":null}}},
{"data":{"name":"bands"},"mark":{"type":"line","color":"#0d6556","strokeWidth":1.3,"clip":true},
 "encoding":{"x":{"field":"i","type":"quantitative","title":null},"y":{"field":"d","type":"quantitative","title":null}}},
{"mark":{"type":"rule","color":"#f23645","strokeWidth":1,"strokeDash":[2,2]},
 "encoding":{"y":{"datum":155.027}}},
{"data":{"name":"bars"},"mark":{"type":"rule","strokeWidth":1,"clip":true},
 "encoding":{"x":{"field":"i","type":"quantitative","title":null},"y":{"field":"l","type":"quantitative","title":null},"y2":{"field":"h"},
  "color":{"condition":{"test":"datum.c>=datum.o","value":"#089981"},"value":"#f23645"}}},
{"data":{"name":"bars"},"mark":{"type":"bar","orient":"vertical","size":4.6,"strokeWidth":0.5,"clip":true},
 "encoding":{"x":{"field":"i","type":"quantitative","title":null},"y":{"field":"o","type":"quantitative","title":null},"y2":{"field":"c"},
  "fill":{"condition":{"test":"datum.c>=datum.o","value":"#089981"},"value":"#f23645"},
  "stroke":{"condition":{"test":"datum.c>=datum.o","value":"#089981"},"value":"#f23645"}}},
{"data":{"name":"bars"},"mark":{"type":"circle","color":"#ffffff","size":11,"opacity":1,"clip":true},
 "encoding":{"x":{"field":"i","type":"quantitative","title":null},"y":{"field":"m","type":"quantitative","title":null}}},

{"mark":{"type":"rect","fill":"#1e1e1e"},"encoding":{"x":{"datum":-2},"x2":{"datum":-0.15},"y":{"datum":153.07},"y2":{"datum":159.08}}},
{"mark":{"type":"rect","fill":"#1e1e1e"},"encoding":{"x":{"datum":371.95},"x2":{"datum":374},"y":{"datum":153.07},"y2":{"datum":159.08}}},
{"mark":{"type":"rect","fill":"#1e1e1e"},"encoding":{"x":{"datum":-2},"x2":{"datum":374},"y":{"datum":158.972},"y2":{"datum":159.08}}},
{"mark":{"type":"rect","fill":"#1e1e1e"},"encoding":{"x":{"datum":-2},"x2":{"datum":374},"y":{"datum":153.07},"y2":{"datum":153.34}}},
{"mark":{"type":"rect","fill":"transparent","stroke":"#2b2b2b","strokeWidth":2},"encoding":{"x":{"datum":-0.15},"x2":{"datum":371.95},"y":{"datum":153.34},"y2":{"datum":158.972}}},

{"mark":{"type":"bar","orient":"horizontal","size":16.5,"fill":"#0e0e0f","stroke":"#7a0f4f","strokeWidth":1.2},"encoding":{"x":{"datum":362.75},"x2":{"datum":370.1},"y":{"datum":157.61}}},
{"mark":{"type":"bar","orient":"horizontal","size":16.5,"fill":"#0e0e0f","stroke":"#f23645","strokeWidth":1.2},"encoding":{"x":{"datum":362.75},"x2":{"datum":371.2},"y":{"datum":156.904}}},
{"mark":{"type":"bar","orient":"horizontal","size":16.5,"fill":"#0e0e0f","stroke":"#ffffff","strokeWidth":1.2},"encoding":{"x":{"datum":362.75},"x2":{"datum":370.1},"y":{"datum":156.61}}},
{"mark":{"type":"bar","orient":"horizontal","size":16.5,"fill":"#0e0e0f","stroke":"#0b8a73","strokeWidth":1.2},"encoding":{"x":{"datum":362.75},"x2":{"datum":370.1},"y":{"datum":155.55}}},
{"mark":{"type":"bar","orient":"horizontal","size":16.5,"fill":"#f23645"},"encoding":{"x":{"datum":362.75},"x2":{"datum":371.2},"y":{"datum":155.027}}},
{"mark":{"type":"text","text":"157.61","align":"left","baseline":"middle","fill":"#7a0f4f","fontSize":12.5},"encoding":{"x":{"datum":363.9},"y":{"datum":157.61}}},
{"mark":{"type":"text","text":"156.904","align":"left","baseline":"middle","fill":"#f23645","fontSize":12.5},"encoding":{"x":{"datum":363.9},"y":{"datum":156.904}}},
{"mark":{"type":"text","text":"156.61","align":"left","baseline":"middle","fill":"#ffffff","fontWeight":"bold","fontSize":12.5},"encoding":{"x":{"datum":363.9},"y":{"datum":156.61}}},
{"mark":{"type":"text","text":"155.55","align":"left","baseline":"middle","fill":"#0b8a73","fontSize":12.5},"encoding":{"x":{"datum":363.9},"y":{"datum":155.55}}},
{"mark":{"type":"text","text":"155.027","align":"left","baseline":"middle","fill":"#ffffff","fontWeight":"bold","fontSize":12.5},"encoding":{"x":{"datum":363.9},"y":{"datum":155.027}}},

{"mark":{"type":"text","text":"FibAlgo created with TradingView.com, Feb 22, 2026 15:18 UTC","align":"left","baseline":"middle","fill":"#d2d2d2","fontSize":12.2},"encoding":{"x":{"datum":0},"y":{"datum":159.012}}},
{"mark":{"type":"text","text":"U.S. Dollar / Japanese Yen · 2h · FXCM","align":"left","baseline":"middle","fill":"#a8a8a8","fontSize":12.4},"encoding":{"x":{"datum":1.21},"y":{"datum":158.897}}},
{"mark":{"type":"text","text":"O","align":"left","baseline":"middle","fill":"#a8a8a8","fontSize":12.4},"encoding":{"x":{"datum":33.9},"y":{"datum":158.897}}},
{"mark":{"type":"text","text":"155.127","align":"left","baseline":"middle","fill":"#f23645","fontSize":12.4},"encoding":{"x":{"datum":35.15},"y":{"datum":158.897}}},
{"mark":{"type":"text","text":"H","align":"left","baseline":"middle","fill":"#a8a8a8","fontSize":12.4},"encoding":{"x":{"datum":42.4},"y":{"datum":158.897}}},
{"mark":{"type":"text","text":"155.165","align":"left","baseline":"middle","fill":"#f23645","fontSize":12.4},"encoding":{"x":{"datum":43.9},"y":{"datum":158.897}}},
{"mark":{"type":"text","text":"L","align":"left","baseline":"middle","fill":"#a8a8a8","fontSize":12.4},"encoding":{"x":{"datum":51.2},"y":{"datum":158.897}}},
{"mark":{"type":"text","text":"154.948","align":"left","baseline":"middle","fill":"#f23645","fontSize":12.4},"encoding":{"x":{"datum":52.3},"y":{"datum":158.897}}},
{"mark":{"type":"text","text":"C","align":"left","baseline":"middle","fill":"#a8a8a8","fontSize":12.4},"encoding":{"x":{"datum":59.6},"y":{"datum":158.897}}},
{"mark":{"type":"text","text":"155.027","align":"left","baseline":"middle","fill":"#f23645","fontSize":12.4},"encoding":{"x":{"datum":60.8},"y":{"datum":158.897}}},
{"mark":{"type":"text","text":"-0.101 (-0.07%)","align":"left","baseline":"middle","fill":"#f23645","fontSize":12.4},"encoding":{"x":{"datum":68.2},"y":{"datum":158.897}}},
{"mark":{"type":"text","text":"FibAlgo - Adaptive Deviation Channels (Mobile, 20, SMA, close, 21, 50, Average, Top Right, small)","align":"left","baseline":"middle","fill":"#a8a8a8","fontSize":12.4},"encoding":{"x":{"datum":1.21},"y":{"datum":158.824}}},
{"mark":{"type":"text","text":"155.09","align":"left","baseline":"middle","fill":"#ffffff","fontWeight":"bold","fontSize":12.4},"encoding":{"x":{"datum":81.7},"y":{"datum":158.824}}},
{"mark":{"type":"text","text":"156.04","align":"left","baseline":"middle","fill":"#7a0f4f","fontSize":12.4},"encoding":{"x":{"datum":88.2},"y":{"datum":158.824}}},
{"mark":{"type":"text","text":"154.02","align":"left","baseline":"middle","fill":"#0b8a73","fontSize":12.4},"encoding":{"x":{"datum":94.7},"y":{"datum":158.824}}},

{"mark":{"type":"point","filled":true,"opacity":1,"fill":"#d8d8d8","size":1064,"shape":"M-.222 -.417H-.889V-.083H-.556V.417H-.222ZM.556 .417H.167L.5 -.417H.889ZM.167 -.083A.167 .167 0 1 0 .167 -.417A.167 .167 0 1 0 .167 -.083Z"},"encoding":{"x":{"datum":2.5},"y":{"datum":153.207}}},
{"mark":{"type":"text","text":"TradingView","align":"left","baseline":"middle","fill":"#d8d8d8","font":"Inter","fontWeight":600,"fontSize":20},"encoding":{"x":{"datum":6},"y":{"datum":153.207}}}
]},
{"data":{"name":"cells"},"mark":{"type":"rect","stroke":"#333333","strokeWidth":2},
 "encoding":{
  "x":{"field":"col","type":"ordinal","axis":null,"scale":{"type":"band","domain":["L","M","R"],"range":[1866,2383],"paddingInner":0,"paddingOuter":0}},
  "y":{"field":"row","type":"ordinal","axis":null,"scale":{"type":"band","domain":["r0","r1","r2","r3","r4","r5","r6","r7"],"range":[11,193],"paddingInner":0,"paddingOuter":0}},
  "fill":{"field":"tone","type":"nominal","legend":null,"scale":{
   "domain":["head","rule","red0","metricHead","teal0","red1","metric","teal1","red2","teal2","red3","teal3","red4","teal4","amber"],
   "range":["#2d405a","#1c1c1c","#7f0000","#4a4a4a","#005f5c","#6f0404","#2a2a2a","#05595a","#6b0505","#055a57","#610607","#08504e","#560a0c","#0a4644","#cf8a05"]}}}},
{"data":{"name":"cells"},"transform":[{"filter":"datum.bold"}],"mark":{"type":"text","fontWeight":"bold","fontSize":9,"baseline":"middle","align":"center"},
 "encoding":{
  "x":{"field":"col","type":"ordinal","axis":null,"scale":{"type":"band","domain":["L","M","R"],"range":[1866,2383],"paddingInner":0,"paddingOuter":0}},
  "y":{"field":"row","type":"ordinal","axis":null,"scale":{"type":"band","domain":["r0","r1","r2","r3","r4","r5","r6","r7"],"range":[11,193],"paddingInner":0,"paddingOuter":0}},
  "text":{"field":"text","type":"nominal"},
  "color":{"field":"ink","type":"nominal","legend":null,"scale":{"domain":["pale","gold","mint","line","white","rose","grey","ice","coral","cyan","dim"],"range":["#dfe6ef","#f0c800","#00e676","#8a8a8a","#ffffff","#f0c8c8","#b0b0b0","#d8f0ee","#ff5252","#40e8e0","#777777"]}}}},
{"data":{"name":"cells"},"transform":[{"filter":"!datum.bold && datum.row!='r1'"}],"mark":{"type":"text","fontSize":9.5,"baseline":"middle","align":"center","font":"Lato"},
 "encoding":{
  "x":{"field":"col","type":"ordinal","axis":null,"scale":{"type":"band","domain":["L","M","R"],"range":[1866,2383],"paddingInner":0,"paddingOuter":0}},
  "y":{"field":"row","type":"ordinal","axis":null,"scale":{"type":"band","domain":["r0","r1","r2","r3","r4","r5","r6","r7"],"range":[11,193],"paddingInner":0,"paddingOuter":0}},
  "text":{"field":"text","type":"nominal"},
  "color":{"field":"ink","type":"nominal","legend":null,"scale":{"domain":["pale","gold","mint","line","white","rose","grey","ice","coral","cyan","dim"],"range":["#dfe6ef","#f0c800","#00e676","#8a8a8a","#ffffff","#f0c8c8","#b0b0b0","#d8f0ee","#ff5252","#40e8e0","#777777"]}}}},
{"data":{"name":"cells"},"transform":[{"filter":"datum.row=='r1'"}],"mark":{"type":"text","fontSize":9.5,"baseline":"middle","align":"center","font":"DejaVu Sans"},
 "encoding":{
  "x":{"field":"col","type":"ordinal","axis":null,"scale":{"type":"band","domain":["L","M","R"],"range":[1866,2383],"paddingInner":0,"paddingOuter":0}},
  "y":{"field":"row","type":"ordinal","axis":null,"scale":{"type":"band","domain":["r0","r1","r2","r3","r4","r5","r6","r7"],"range":[11,193],"paddingInner":0,"paddingOuter":0}},
  "text":{"field":"text","type":"nominal"},
  "color":{"value":"#8a8a8a"}}}
],
"resolve":{"scale":{"x":"independent","y":"independent","color":"independent","fill":"independent"}}
}
